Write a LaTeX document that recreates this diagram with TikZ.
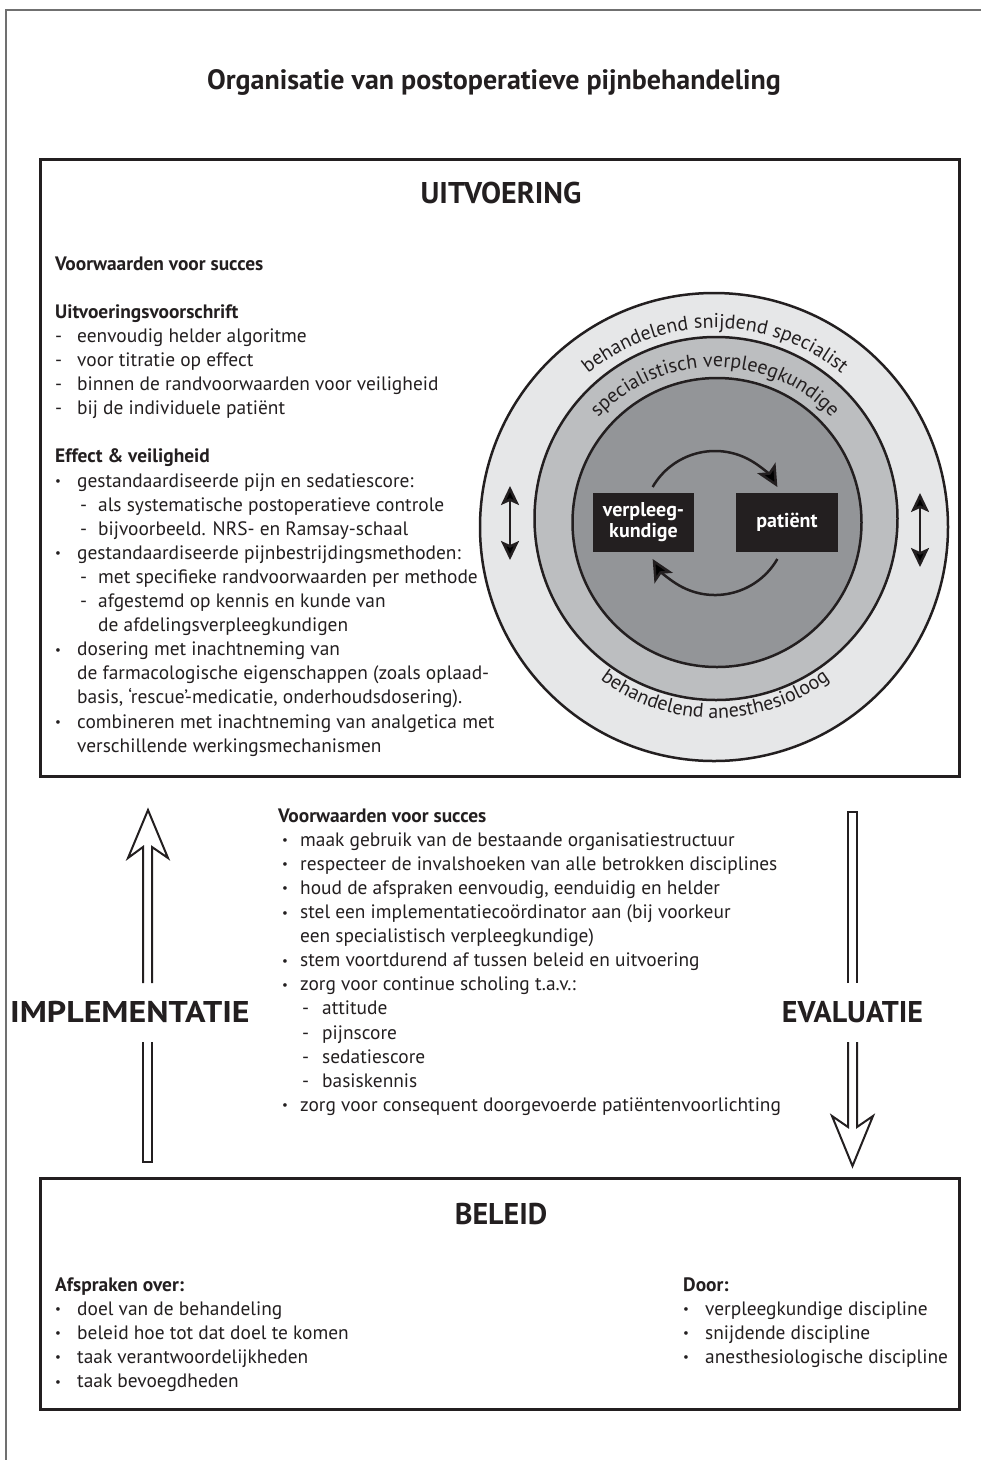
\documentclass[tikz,border=0pt]{standalone}
\usepackage{fontspec}
\setmainfont{PT Sans}
\usetikzlibrary{arrows.meta,decorations.text}
\definecolor{ink}{HTML}{231F20}
\definecolor{ringA}{HTML}{E6E7E8}
\definecolor{ringB}{HTML}{BCBEC0}
\definecolor{ringC}{HTML}{939598}
\definecolor{framec}{HTML}{707070}
\newcommand{\bodyfont}{\fontsize{19.4}{24.1}\selectfont}
\newcommand{\ringfont}{\fontsize{20}{22}\selectfont}
\newcommand{\smb}{\raisebox{1.5pt}{\fontsize{13}{13}\selectfont\textbullet}}
% left-aligned lists (Uitvoering, Beleid)
\newcommand{\LB}{\makebox[22pt][l]{\smb}}
\newcommand{\LD}{\makebox[22pt][l]{-}}
\newcommand{\LSD}{\hspace*{25pt}\makebox[18pt][l]{-}}
\newcommand{\LSC}{\hspace*{43pt}}
\newcommand{\LC}{\hspace*{22pt}}
% middle list
\newcommand{\MB}{\hspace*{4pt}\makebox[18pt][l]{\smb}}
\newcommand{\MC}{\hspace*{22pt}}
\newcommand{\MSD}{\hspace*{24pt}\makebox[20pt][l]{-}}
\begin{document}
\begin{tikzpicture}[x=1pt,y=1pt,
  txt/.style={anchor=north west,inner sep=0pt,align=left,font=\bodyfont,text=ink},
  bigbox/.style={draw=ink,line width=3pt,inner sep=0pt,fill=white},
  headline/.style={font=\bfseries\fontsize{30}{32}\selectfont,text=ink,inner sep=0pt},
  darkbox/.style={fill=ink,text=white,inner sep=0pt,align=center,
    font=\bfseries\fontsize{20}{21}\selectfont},
  ring/.style={draw=ink,line width=2.5pt},
  cyc/.style={draw=ink,line width=2.5pt,-{Stealth[length=22pt,width=21pt,inset=5pt]}},
  dbl/.style={draw=ink,line width=2.5pt,{Stealth[length=19pt,width=18pt,inset=4pt]}-{Stealth[length=19pt,width=18pt,inset=4pt]}},
  hollow/.style={draw=ink,line width=2pt,fill=white,line join=miter},
  ringtext/.style={decorate,decoration={text along path,text align=center,text color=ink}}
]
\useasboundingbox (0,0) rectangle (981,-1460);
% page frame (top and left only)
\draw[framec,line width=1.2pt] (6,-1460) -- (6,-10) -- (981,-10);

% title
\node[font=\bfseries\fontsize{28}{30}\selectfont,text=ink,inner sep=0pt] (title) at (494,-82)
  {Organisatie van postoperatieve pijnbehandeling};

% boxes
\node[bigbox,minimum width=919pt,minimum height=617pt] (uitvbox) at (499.5,-467.5) {};
\node[bigbox,minimum width=919pt,minimum height=231pt] (beleidbox) at (499.5,-1293.5) {};

\node[headline] (uitvh) at (501,-193) {UITVOERING};
\node[headline] (beleidh) at (501,-1214) {BELEID};

% circles
\fill[ringA] (714,-527) circle[radius=234];
\draw[ring] (714,-527) circle[radius=234];
\fill[ringB] (716,-518.5) circle[radius=181.5];
\draw[ring] (716,-518.5) circle[radius=181.5];
\fill[ringC] (717,-522.5) circle[radius=144.5];
\draw[ring] (717,-522.5) circle[radius=144.5];

\coordinate (cc) at (715,-527);
\path[ringtext,decoration={text={|\ringfont|behandelend snijdend specialist}}]
  (cc) ++(170:199) arc[start angle=170,end angle=10,radius=199];
\path[ringtext,decoration={text={|\ringfont|specialistisch verpleegkundige}}]
  (cc) ++(170:160) arc[start angle=170,end angle=10,radius=160];
\path[ringtext,decoration={text={|\ringfont|behandelend anesthesioloog}}]
  (cc) ++(190:191) arc[start angle=190,end angle=350,radius=191];

% inner boxes
\node[darkbox,minimum width=101pt,minimum height=59pt] (verpl) at (643.5,-522.5) {verpleeg-\\kundige};
\node[darkbox,minimum width=102pt,minimum height=59pt] (pat) at (787,-522.5) {patiënt};

% cycle arrows
\coordinate (cyc) at (715,-523);
\draw[cyc] ([shift={(150:72)}]cyc) arc[start angle=150,end angle=30,radius=72];
\draw[cyc] ([shift={(-30:72)}]cyc) arc[start angle=-30,end angle=-150,radius=72];

% side double arrows
\coordinate (la1) at (510,-486);
\coordinate (la2) at (510,-560);
\coordinate (ra1) at (920,-493);
\coordinate (ra2) at (920,-567);
\draw[dbl] (la1) -- (la2);
\draw[dbl] (ra1) -- (ra2);

% Uitvoering text
\node[txt] (uitvtext) at (55,-253.1) {\strut\textbf{Voorwaarden voor succes}\\[24.1pt]
\textbf{Uitvoeringsvoorschrift}\\
\LD eenvoudig helder algoritme\\
\LD voor titratie op effect\\
\LD binnen de randvoorwaarden voor veiligheid\\
\LD bij de individuele patiënt\\[24.1pt]
\textbf{Effect \& veiligheid}\\
\LB gestandaardiseerde pijn en sedatiescore:\\
\LSD als systematische postoperatieve controle\\
\LSD bijvoorbeeld. NRS- en Ramsay-schaal\\
\LB gestandaardiseerde pijnbestrijdingsmethoden:\\
\LSD met specifieke randvoorwaarden per methode\\
\LSD afgestemd op kennis en kunde van\\
\LSC de afdelingsverpleegkundigen\\
\LB dosering met inachtneming van\\
\LC de farmacologische eigenschappen (zoals oplaad-\\
\LC basis, ‘rescue’-medicatie, onderhoudsdosering).\\
\LB combineren met inachtneming van analgetica met\\
\LC verschillende werkingsmechanismen};

% middle text
\node[txt] (midtext) at (278,-805.1) {\strut\textbf{Voorwaarden voor succes}\\
\MB maak gebruik van de bestaande organisatiestructuur\\
\MB respecteer de invalshoeken van alle betrokken disciplines\\
\MB houd de afspraken eenvoudig, eenduidig en helder\\
\MB stel een implementatiecoördinator aan (bij voorkeur\\
\MC een specialistisch verpleegkundige)\\
\MB stem voortdurend af tussen beleid en uitvoering\\
\MB zorg voor continue scholing t.a.v.:\\
\MSD attitude\\
\MSD pijnscore\\
\MSD sedatiescore\\
\MSD basiskennis\\
\MB zorg voor consequent doorgevoerde patiëntenvoorlichting};

% implementatie arrow
\draw[hollow] (143,-983) -- (143,-847) -- (128,-858) -- (148,-810) -- (168,-858) -- (152,-847) -- (152,-983);
\draw[hollow] (143,-1042) -- (143,-1162) -- (152,-1162) -- (152,-1042);
\node[headline,anchor=west] (impl) at (10,-1012) {\addfontfeature{FakeStretch=1.13}IMPLEMENTATIE};

% evaluatie arrow
\draw[hollow] (848,-983) -- (848,-812) -- (857,-812) -- (857,-983);
\draw[hollow] (848,-1042) -- (848,-1127) -- (832,-1116) -- (852.5,-1166) -- (873,-1116) -- (857,-1127) -- (857,-1042);
\node[headline] (eval) at (852.5,-1012) {EVALUATIE};

% Beleid text
\node[txt] (afspr) at (55,-1274.1) {\strut\textbf{Afspraken over:}\\
\LB doel van de behandeling\\
\LB beleid hoe tot dat doel te komen\\
\LB taak verantwoordelijkheden\\
\LB taak bevoegdheden};
\node[txt] (door) at (683,-1274.1) {\strut\textbf{Door:}\\
\LB verpleegkundige discipline\\
\LB snijdende discipline\\
\LB anesthesiologische discipline};
\end{tikzpicture}
\end{document}
